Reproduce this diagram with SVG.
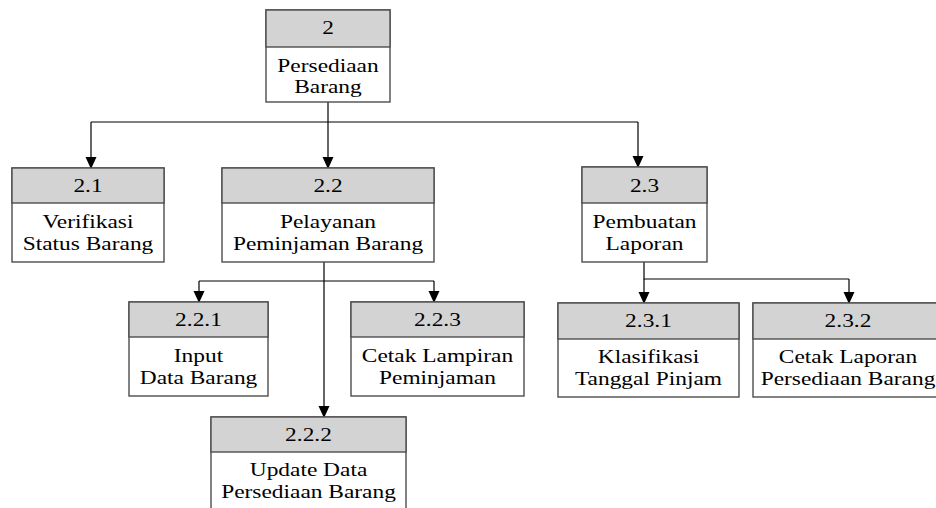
<svg xmlns="http://www.w3.org/2000/svg" width="936" height="508" viewBox="0 0 936 508">
  <style>
    .box { fill: #ffffff; stroke: #4d4d4d; stroke-width: 1.4; }
    .hdr { fill: #d3d3d3; stroke: #4d4d4d; stroke-width: 1.4; }
    .lbl { font-size: 18px; fill: #000000; text-anchor: middle; }
    .wire { fill: none; stroke: #000000; stroke-width: 1.2; }
    .arrow { fill: none; stroke: #000000; stroke-width: 1.2; marker-end: url(#head); }
  </style>
  <defs>
    <marker id="head" markerUnits="userSpaceOnUse" markerWidth="12" markerHeight="13" refX="11" refY="6" orient="auto" viewBox="0 0 12 12">
      <path d="M0,0.5 L12,6 L0,11.5 Z" fill="#000000"/>
    </marker>
  </defs>
  <rect width="936" height="508" fill="#ffffff"/>

  <!-- connectors -->
  <g id="connectors">
    <path class="wire" d="M328,102 V122 M91,122 H638"/>
    <path class="arrow" d="M91,122 V168"/>
    <path class="arrow" d="M328,122 V168"/>
    <path class="arrow" d="M638,122 V167"/>
    <path class="wire" d="M199,281 H434"/>
    <path class="arrow" d="M324,262 V417"/>
    <path class="arrow" d="M199,281 V302"/>
    <path class="arrow" d="M434,281 V302"/>
    <path class="wire" d="M644,262 V279 H849"/>
    <path class="arrow" d="M644,279 V303"/>
    <path class="arrow" d="M849,279 V303"/>
  </g>

  <g font-family="'Liberation Serif', 'Times New Roman', Times, serif">
  <!-- 2 -->
  <g id="node-2">
    <rect class="box" x="266" y="10" width="124" height="92"/>
    <rect class="hdr" x="266" y="10" width="124" height="37"/>
    <g transform="translate(328 0) scale(1.3 1)">
      <text class="lbl" x="0" y="34">2</text>
      <text class="lbl" x="0" y="72">Persediaan</text>
      <text class="lbl" x="0" y="93">Barang</text>
    </g>
  </g>

  <!-- 2.1 -->
  <g id="node-2-1">
    <rect class="box" x="12" y="168" width="152" height="94"/>
    <rect class="hdr" x="12" y="168" width="152" height="35"/>
    <g transform="translate(88 0) scale(1.3 1)">
      <text class="lbl" x="0" y="192">2.1</text>
      <text class="lbl" x="0" y="228">Verifikasi</text>
      <text class="lbl" x="0" y="250">Status Barang</text>
    </g>
  </g>

  <!-- 2.2 -->
  <g id="node-2-2">
    <rect class="box" x="222" y="168" width="212" height="94"/>
    <rect class="hdr" x="222" y="168" width="212" height="35"/>
    <g transform="translate(328 0) scale(1.3 1)">
      <text class="lbl" x="0" y="192">2.2</text>
      <text class="lbl" x="0" y="228">Pelayanan</text>
      <text class="lbl" x="0" y="250">Peminjaman Barang</text>
    </g>
  </g>

  <!-- 2.3 -->
  <g id="node-2-3">
    <rect class="box" x="582" y="167" width="125" height="95"/>
    <rect class="hdr" x="582" y="167" width="125" height="36"/>
    <g transform="translate(644.5 0) scale(1.3 1)">
      <text class="lbl" x="0" y="192">2.3</text>
      <text class="lbl" x="0" y="228">Pembuatan</text>
      <text class="lbl" x="0" y="250">Laporan</text>
    </g>
  </g>

  <!-- 2.2.1 -->
  <g id="node-2-2-1">
    <rect class="box" x="129" y="302" width="139" height="94"/>
    <rect class="hdr" x="129" y="302" width="139" height="35"/>
    <g transform="translate(198.5 0) scale(1.3 1)">
      <text class="lbl" x="0" y="326">2.2.1</text>
      <text class="lbl" x="0" y="362">Input</text>
      <text class="lbl" x="0" y="384">Data Barang</text>
    </g>
  </g>

  <!-- 2.2.3 -->
  <g id="node-2-2-3">
    <rect class="box" x="351" y="302" width="173" height="94"/>
    <rect class="hdr" x="351" y="302" width="173" height="35"/>
    <g transform="translate(437.5 0) scale(1.3 1)">
      <text class="lbl" x="0" y="326">2.2.3</text>
      <text class="lbl" x="0" y="362">Cetak Lampiran</text>
      <text class="lbl" x="0" y="384">Peminjaman</text>
    </g>
  </g>

  <!-- 2.2.2 -->
  <g id="node-2-2-2">
    <rect class="box" x="211" y="417" width="195" height="96"/>
    <rect class="hdr" x="211" y="417" width="195" height="35"/>
    <g transform="translate(308.5 0) scale(1.3 1)">
      <text class="lbl" x="0" y="441">2.2.2</text>
      <text class="lbl" x="0" y="476">Update Data</text>
      <text class="lbl" x="0" y="498">Persediaan Barang</text>
    </g>
  </g>

  <!-- 2.3.1 -->
  <g id="node-2-3-1">
    <rect class="box" x="558" y="303" width="181" height="94"/>
    <rect class="hdr" x="558" y="303" width="181" height="36"/>
    <g transform="translate(648.5 0) scale(1.3 1)">
      <text class="lbl" x="0" y="327">2.3.1</text>
      <text class="lbl" x="0" y="363">Klasifikasi</text>
      <text class="lbl" x="0" y="385">Tanggal Pinjam</text>
    </g>
  </g>

  <!-- 2.3.2 -->
  <g id="node-2-3-2">
    <rect class="box" x="753" y="303" width="190" height="94"/>
    <rect class="hdr" x="753" y="303" width="190" height="36"/>
    <g transform="translate(848 0) scale(1.3 1)">
      <text class="lbl" x="0" y="327">2.3.2</text>
      <text class="lbl" x="0" y="363">Cetak Laporan</text>
      <text class="lbl" x="0" y="385">Persediaan Barang</text>
    </g>
  </g>
  </g>
</svg>
